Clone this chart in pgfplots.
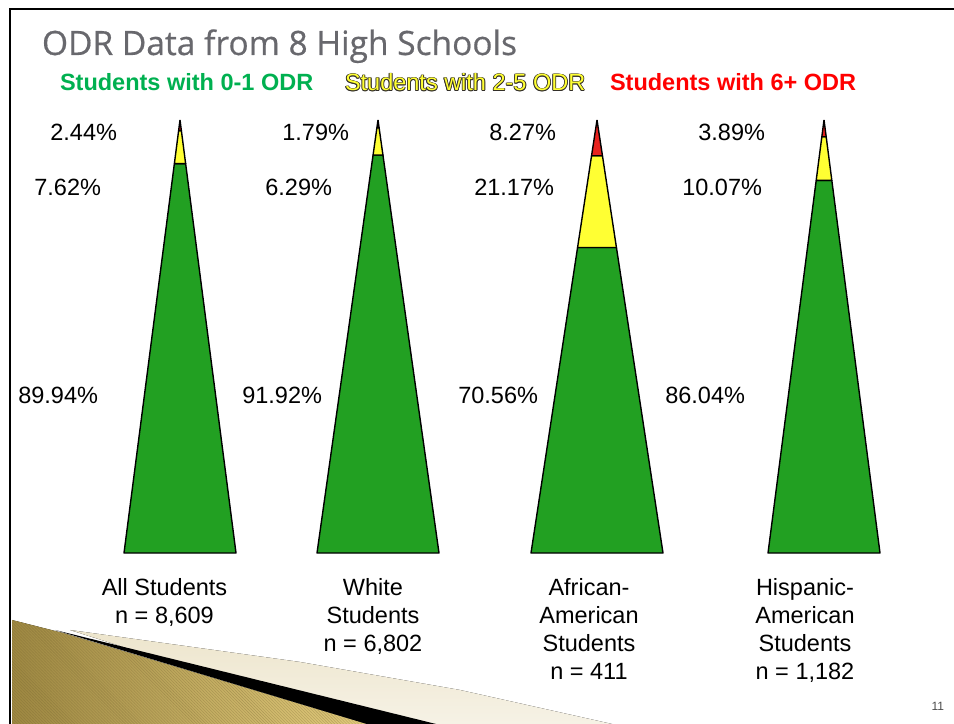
\documentclass[border=0pt]{standalone}
\usepackage{pgfplots}
\pgfplotsset{compat=1.18}
\usepackage{fontspec}
\setmainfont{Liberation Sans}
\newfontfamily\titlefont[FakeBold=0.5]{Open Sans}
\usetikzlibrary{patterns}

\definecolor{odrgreen}{HTML}{22A022}
\definecolor{odryellow}{HTML}{FFFF33}
\definecolor{odrred}{HTML}{E8221E}
\definecolor{leggreen}{HTML}{00B050}
\definecolor{legred}{HTML}{FF0000}
\definecolor{titlegray}{HTML}{68686D}
\definecolor{golddark}{HTML}{9E8842}
\definecolor{goldlight}{HTML}{E2CB7C}
\definecolor{beige}{HTML}{EDE5CC}

\newcommand\pct{\fontsize{23.5bp}{28bp}\selectfont}

\begin{document}
\begin{tikzpicture}
\useasboundingbox (0,0) rectangle (954bp,724bp);

% slide decoration, pixel coordinates (y down)
\begin{scope}[shift={(0,724bp)}, x=1bp, y=-1bp]
  \fill[top color=beige, bottom color=beige!50] (70,630) -- (300,662) -- (460,690) -- (612,724) -- (367,724) -- cycle;
  \fill[left color=golddark, right color=goldlight] (12,620) -- (63,633) -- (367,724) -- (12,724) -- cycle;
  \fill[pattern=north west lines, pattern color=golddark!70!black, opacity=0.35] (12,620) -- (63,633) -- (367,724) -- (12,724) -- cycle;
  \fill[black] (55,630) -- (367,724) -- (436,724) -- cycle;
  \draw[line width=2.5bp] (10,724) -- (10,9) -- (954,9);
\end{scope}

\begin{axis}[
  at={(0,0)}, anchor=south west,
  width=954bp, height=724bp, scale only axis,
  xmin=0, xmax=954, ymin=0, ymax=724, y dir=reverse,
  hide axis, clip=false,
  every axis plot/.append style={draw=black, line width=1.4bp, line join=round, mark=none},
]
% All Students: 89.94 / 7.62 / 2.44
\addplot[fill=odrgreen] coordinates {(174.37,163.6) (185.63,163.6) (236,553) (124,553) (174.37,163.6)};
\addplot[fill=odryellow] coordinates {(178.63,130.6) (181.37,130.6) (185.63,163.6) (174.37,163.6) (178.63,130.6)};
\addplot[fill=odrred] coordinates {(180,120) (181.37,130.6) (178.63,130.6) (180,120)};
% White Students: 91.92 / 6.29 / 1.79
\addplot[fill=odrgreen] coordinates {(373.07,155.0) (382.93,155.0) (439,553) (317,553) (373.07,155.0)};
\addplot[fill=odryellow] coordinates {(376.91,127.75) (379.09,127.75) (382.93,155.0) (373.07,155.0) (376.91,127.75)};
\addplot[fill=odrred] coordinates {(378,120) (379.09,127.75) (376.91,127.75) (378,120)};
% African-American Students: 70.56 / 21.17 / 8.27
\addplot[fill=odrgreen] coordinates {(577.57,247.5) (616.43,247.5) (663,553) (531,553) (577.57,247.5)};
\addplot[fill=odryellow] coordinates {(591.54,155.8) (602.46,155.8) (616.43,247.5) (577.57,247.5) (591.54,155.8)};
\addplot[fill=odrred] coordinates {(597,120) (602.46,155.8) (591.54,155.8) (597,120)};
% Hispanic-American Students: 86.04 / 10.07 / 3.89
\addplot[fill=odrgreen] coordinates {(816.18,180.4) (831.82,180.4) (880,553) (768,553) (816.18,180.4)};
\addplot[fill=odryellow] coordinates {(821.82,136.8) (826.18,136.8) (831.82,180.4) (816.18,180.4) (821.82,136.8)};
\addplot[fill=odrred] coordinates {(824,120) (826.18,136.8) (821.82,136.8) (824,120)};
\end{axis}

% texts, pixel coordinates (y down)
\begin{scope}[shift={(0,724bp)}, x=1bp, y=-1bp, every node/.style={inner sep=0pt, outer sep=0pt}]
  \node[anchor=base west, text=titlegray] at (42,55) {\titlefont\fontsize{33.5bp}{40bp}\selectfont ODR Data from 8 High Schools};

  \node[anchor=base west, text=leggreen] at (60,91) {\pct\bfseries Students with 0-1 ODR};
  \foreach \dx/\dy in {0.8/0,-0.8/0,0/0.8,0/-0.8,0.6/0.6,-0.6/0.6,0.6/-0.6,-0.6/-0.6}
    \node[anchor=base west, text=black!85!olive] at (345+\dx,91+\dy) {\pct Students with 2-5 ODR};
  \node[anchor=base west, text=odryellow] at (345,91) {\pct Students with 2-5 ODR};
  \node[anchor=base west, text=legred] at (610,91) {\pct\bfseries Students with 6+ ODR};

  % percentages
  \node[anchor=base east] at (117,141) {\pct 2.44\%};
  \node[anchor=base east] at (101,196) {\pct 7.62\%};
  \node[anchor=base east] at (98,404) {\pct 89.94\%};
  \node[anchor=base east] at (349,141) {\pct 1.79\%};
  \node[anchor=base east] at (332,196) {\pct 6.29\%};
  \node[anchor=base east] at (322,404) {\pct 91.92\%};
  \node[anchor=base east] at (556,141) {\pct 8.27\%};
  \node[anchor=base east] at (554,196) {\pct 21.17\%};
  \node[anchor=base east] at (538,404) {\pct 70.56\%};
  \node[anchor=base east] at (765,141) {\pct 3.89\%};
  \node[anchor=base east] at (762,196) {\pct 10.07\%};
  \node[anchor=base east] at (745,404) {\pct 86.04\%};

  % group names
  \node[anchor=base] at (164.5,596) {\pct All Students};
  \node[anchor=base] at (164.5,624) {\pct n = 8,609};
  \node[anchor=base] at (373,596) {\pct White};
  \node[anchor=base] at (373,624) {\pct Students};
  \node[anchor=base] at (373,652) {\pct n = 6,802};
  \node[anchor=base] at (589,596) {\pct African-};
  \node[anchor=base] at (589,624) {\pct American};
  \node[anchor=base] at (589,652) {\pct Students};
  \node[anchor=base] at (589,680) {\pct n = 411};
  \node[anchor=base] at (805,596) {\pct Hispanic-};
  \node[anchor=base] at (805,624) {\pct American};
  \node[anchor=base] at (805,652) {\pct Students};
  \node[anchor=base] at (805,680) {\pct n = 1,182};

  \node[anchor=base east, text=black!70] at (944,711) {\fontsize{12bp}{14bp}\selectfont 11};
\end{scope}
\end{tikzpicture}
\end{document}
